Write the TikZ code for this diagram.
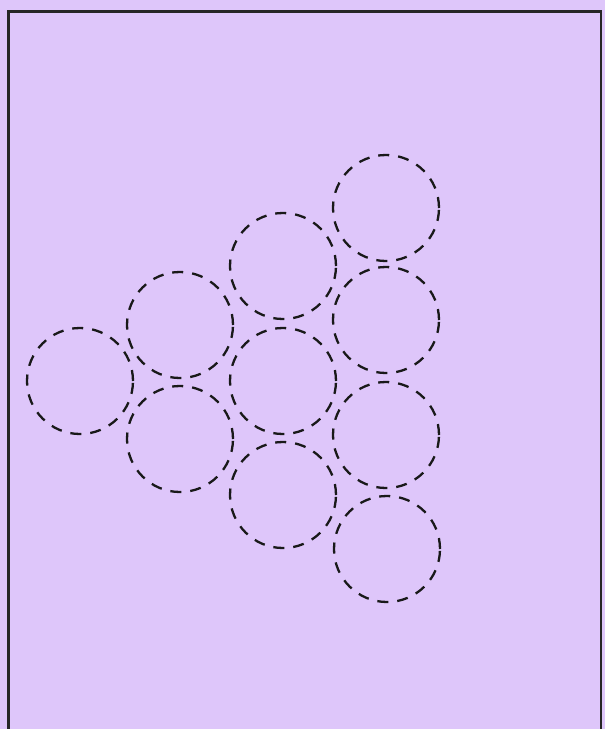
\documentclass[tikz,border=0pt]{standalone}
\definecolor{paper}{RGB}{222,198,250}
\tikzset{
  ring/.style={circle, draw=black!90, line width=2.3pt, minimum size=106pt, inner sep=0pt,
    dash pattern=on 11pt off 9pt},
}
\begin{document}
\begin{tikzpicture}[x=1pt,y=-1pt]
\fill[paper] (0,0) rectangle (605,729);
\useasboundingbox (0,0) rectangle (605,729);
\draw[line width=2.2pt, black!85] (8.5,11.5) rectangle (601,740);
% column 1
\node[ring] (a1) at (80,381) {};
% column 2
\node[ring] (b1) at (180,325) {};
\node[ring] (b2) at (180,439) {};
% column 3
\node[ring] (c1) at (283,266) {};
\node[ring] (c2) at (283,381) {};
\node[ring] (c3) at (283,495) {};
% column 4
\node[ring] (d1) at (386,208) {};
\node[ring] (d2) at (386,320) {};
\node[ring] (d3) at (386,435) {};
\node[ring] (d4) at (387,549) {};
\end{tikzpicture}
\end{document}
